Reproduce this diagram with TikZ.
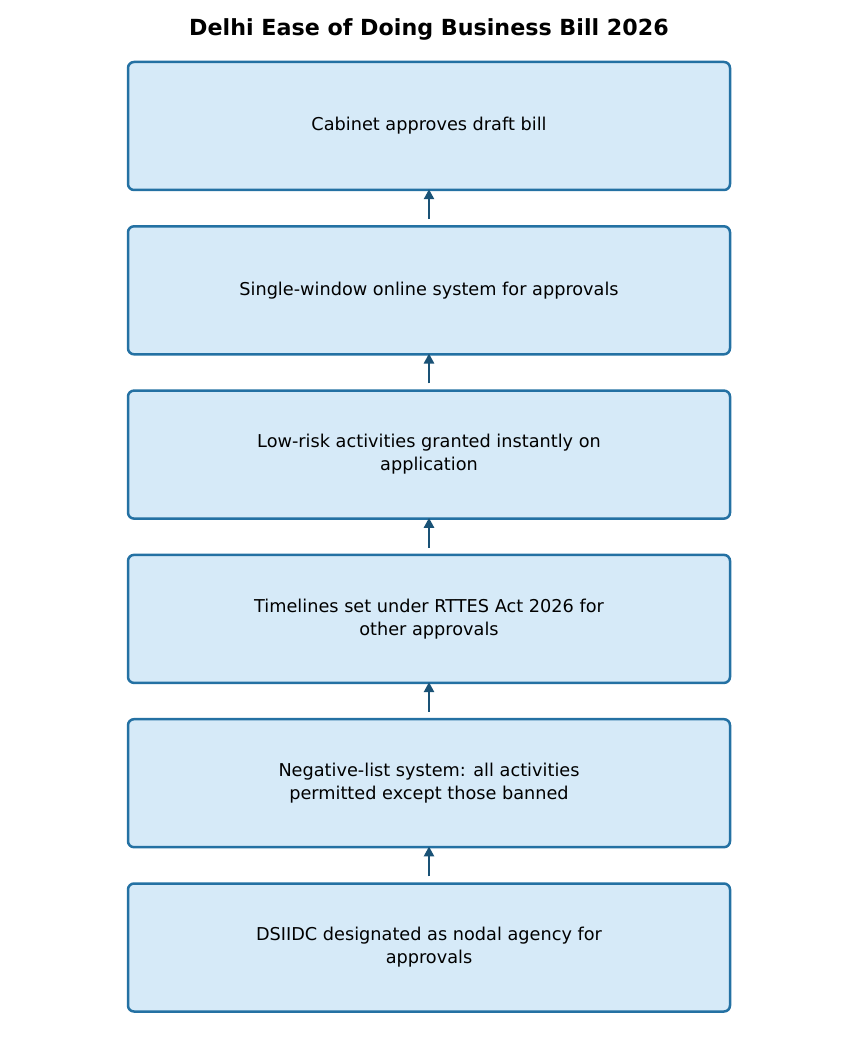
\documentclass[tikz,border=0pt]{standalone}
\usepackage{fontspec}
\setmainfont{DejaVu Sans}
\usetikzlibrary{arrows.meta,positioning}
\definecolor{boxfill}{HTML}{D6EAF8}
\definecolor{boxedge}{HTML}{2471A3}
\definecolor{flowcol}{HTML}{1A5276}

\begin{document}
\begin{tikzpicture}[x=0.5pt,y=0.5pt]
  \tikzset{
    >={Triangle[length=5pt,width=5pt]},
    node distance=16.9pt,
    stage/.style={rectangle,rounded corners=3pt,draw=boxedge,fill=boxfill,
      line width=1.25pt,minimum width=301pt,minimum height=64pt,
      align=center,font=\fontsize{8.85pt}{11.5pt}\selectfont},
    heading/.style={font=\fontsize{11.1pt}{13pt}\selectfont\bfseries},
    flow/.style={->,draw=flowcol,line width=1.4pt,shorten <=3pt,shorten >=-1pt},
  }
  \useasboundingbox (0,0) rectangle (858,-1053);
  \node [heading] (title) at (429,-29) {Delhi Ease of Doing Business Bill 2026};
  \node [stage] (cabinet) at (429,-126) {Cabinet approves draft bill};
  \node [stage] (window)    [below=of cabinet]   {Single-window online system for approvals};
  \node [stage] (lowrisk)   [below=of window]    {Low-risk activities granted instantly on\\application};
  \node [stage] (timelines) [below=of lowrisk]   {Timelines set under RTTES Act 2026 for\\other approvals};
  \node [stage] (neglist)   [below=of timelines] {Negative-list system: all activities\\permitted except those banned};
  \node [stage] (dsiidc)    [below=of neglist]   {DSIIDC designated as nodal agency for\\approvals};

  \draw[flow] (dsiidc.north) -- (neglist.south);
  \draw[flow] (neglist.north) -- (timelines.south);
  \draw[flow] (timelines.north) -- (lowrisk.south);
  \draw[flow] (lowrisk.north) -- (window.south);
  \draw[flow] (window.north) -- (cabinet.south);
\end{tikzpicture}
\end{document}
